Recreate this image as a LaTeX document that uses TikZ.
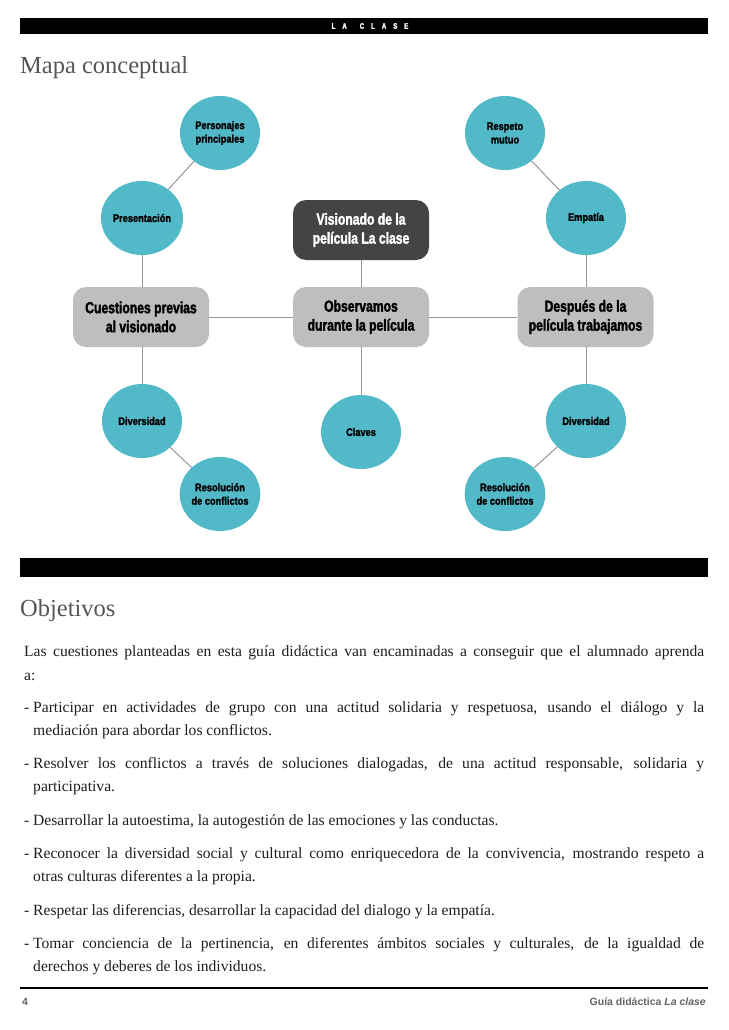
\documentclass[tikz,border=0pt]{standalone}
\usepackage{fontspec}
\usetikzlibrary{shapes.geometric}
\newfontfamily\condbox[FakeStretch=0.76,FakeBold=2]{Liberation Sans Bold}
\newfontfamily\condcirc[FakeStretch=0.84,FakeBold=1.8]{Liberation Sans Bold}
\newfontfamily\footsans{Liberation Sans Bold}
\newfontfamily\pal{Liberation Serif}
\definecolor{circfill}{RGB}{82,185,201}
\definecolor{boxgrey}{RGB}{190,190,190}
\definecolor{boxdark}{RGB}{68,68,68}
\definecolor{linegrey}{RGB}{150,150,150}
\definecolor{titlegrey}{RGB}{85,85,85}
\definecolor{bodytext}{RGB}{30,30,30}
\definecolor{footgrey}{RGB}{100,100,100}
\tikzset{
  bubble/.style={ellipse, fill=circfill, minimum width=80pt, minimum height=74pt,
    inner sep=0pt, align=center, font=\condcirc\fontsize{11}{13.5}\selectfont, text=black},
  topic/.style={rectangle, rounded corners=13pt, fill=boxgrey, minimum width=136pt,
    minimum height=60pt, inner sep=0pt, align=center,
    font=\condbox\fontsize{16}{19}\selectfont, text=black},
  darktopic/.style={topic, fill=boxdark, text=white},
  link/.style={draw=linegrey, line width=1pt},
  bar/.style={fill=black, inner sep=0pt, minimum width=688pt, anchor=north west},
  bodyline/.style={anchor=base west, inner sep=0pt, text=bodytext,
    font=\pal\fontsize{15.6}{18}\selectfont},
  heading/.style={anchor=base west, inner sep=0pt, text=titlegrey,
    font=\pal\fontsize{24.5}{28}\selectfont}
}
\newcommand\dashitem{\makebox[9pt][l]{-}}
\begin{document}
\begin{tikzpicture}[x=1pt,y=-1pt]
\useasboundingbox (0,0) rectangle (728,1030);
% top bar
\node[bar, minimum height=16pt] (topbar) at (20,18) {};
\node[text=white, inner sep=0pt, font=\condbox\fontsize{8}{9}\selectfont] (toptext) at (370,26)
  {L\hspace{7pt}A\hspace{13pt}C\hspace{7pt}L\hspace{7pt}A\hspace{7pt}S\hspace{7pt}E};
\node[heading] (title1) at (20,74) {Mapa conceptual};

% boxes
\node[topic] (cues) at (141,317) {Cuestiones previas\\al visionado};
\node[topic] (obs) at (361,317) {Observamos\\durante la película};
\node[topic] (desp) at (585.5,317) {Después de la\\película trabajamos};
\node[darktopic] (vis) at (361,230) {Visionado de la\\película La clase};

% bubbles
\node[bubble] (pers) at (220,133) {Personajes\\principales};
\node[bubble] (pres) at (142,218) {Presentación};
\node[bubble] (divl) at (142,421) {Diversidad};
\node[bubble] (resl) at (220,494) {Resolución\\de conflictos};
\node[bubble] (clav) at (361,432) {Claves};
\node[bubble] (resp) at (505,133) {Respeto\\mutuo};
\node[bubble] (emp) at (586,218) {Empatía};
\node[bubble] (divr) at (586,421) {Diversidad};
\node[bubble] (resr) at (505,494) {Resolución\\de conflictos};

% links
\draw[link] (pers) -- (pres);
\draw[link] (pres.south) -- (pres.south |- cues.north);
\draw[link] (cues.south -| divl.north) -- (divl.north);
\draw[link] (divl) -- (resl);
\draw[link] (cues.east) -- (obs.west);
\draw[link] (obs.east) -- (desp.west);
\draw[link] (vis.south) -- (obs.north);
\draw[link] (obs.south) -- (clav.north);
\draw[link] (resp) -- (emp);
\draw[link] (emp.south) -- (emp.south |- desp.north);
\draw[link] (desp.south -| divr.north) -- (divr.north);
\draw[link] (divr) -- (resr);

% second bar
\node[bar, minimum height=19pt] (midbar) at (20,558) {};
\node[heading] (title2) at (20,616) {Objetivos};

% body text
\node[bodyline] (l1) at (24,656) {\makebox[680pt][s]{Las cuestiones planteadas en esta guía didáctica van encaminadas a conseguir que el alumnado aprenda}};
\node[bodyline] (l2) at (24,680) {a:};
\node[bodyline] (l3) at (24,712) {\makebox[680pt][s]{\dashitem Participar en actividades de grupo con una actitud solidaria y respetuosa, usando el diálogo y la}};
\node[bodyline] (l4) at (33,735) {mediación para abordar los conflictos.};
\node[bodyline] (l5) at (24,768) {\makebox[680pt][s]{\dashitem Resolver los conflictos a través de soluciones dialogadas, de una actitud responsable, solidaria y}};
\node[bodyline] (l6) at (33,791) {participativa.};
\node[bodyline] (l7) at (24,825) {\dashitem Desarrollar la autoestima, la autogestión de las emociones y las conductas.};
\node[bodyline] (l8) at (24,858) {\makebox[680pt][s]{\dashitem Reconocer la diversidad social y cultural como enriquecedora de la convivencia, mostrando respeto a}};
\node[bodyline] (l9) at (33,881) {otras culturas diferentes a la propia.};
\node[bodyline] (l10) at (24,915) {\dashitem Respetar las diferencias, desarrollar la capacidad del dialogo y la empatía.};
\node[bodyline] (l11) at (24,948) {\makebox[680pt][s]{\dashitem Tomar conciencia de la pertinencia, en diferentes ámbitos sociales y culturales, de la igualdad de}};
\node[bodyline] (l12) at (33,971) {derechos y deberes de los individuos.};

% footer
\coordinate (fl) at (20,988);
\coordinate (fr) at (708,988);
\draw[line width=1.1pt, black] (fl) -- (fr);
\node[anchor=base west, inner sep=0pt, text=footgrey, font=\footsans\fontsize{10.5}{12}\selectfont] (pnum) at (22,1005) {4};
\node[anchor=base east, inner sep=0pt, text=footgrey, font=\footsans\fontsize{10.5}{12}\selectfont] (guide) at (706,1005) {Guía didáctica \textit{La clase}};
\end{tikzpicture}
\end{document}
